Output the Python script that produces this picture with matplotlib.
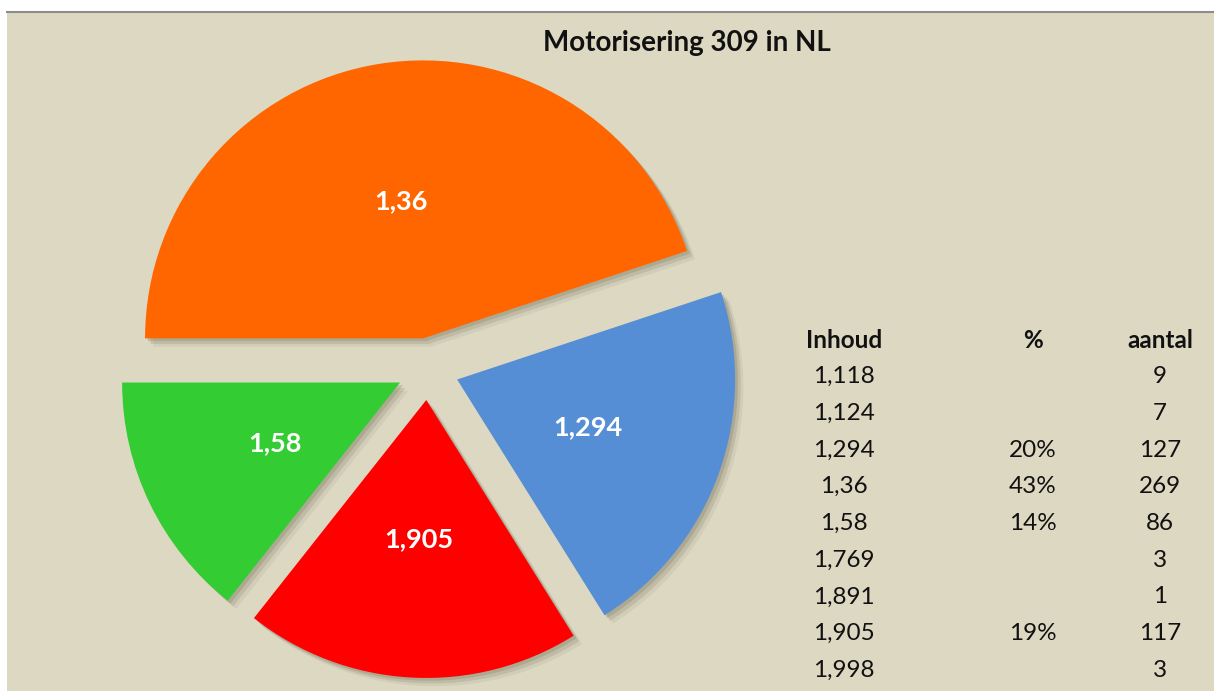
import matplotlib.pyplot as plt
from matplotlib.patches import Rectangle, Shadow

# pie data (clockwise, starting at 9 o'clock)
pie_labels = ['1,36', '1,294', '1,905', '1,58']
pie_counts = [269, 127, 117, 86]
pie_colors = ['#FF6600', '#558ED5', '#FF0000', '#33CC33']

# table on the right
table_header = ['Inhoud', '%', 'aantal']
table_inhoud = ['1,118', '1,124', '1,294', '1,36', '1,58', '1,769', '1,891', '1,905', '1,998']
table_pct = ['', '', '20%', '43%', '14%', '', '', '19%', '']
table_aantal = [9, 7, 127, 269, 86, 3, 1, 117, 3]

W, H = 1214, 691
bg = '#DDD8C2'

fig = plt.figure(figsize=(W / 100, H / 100), dpi=100)
fig.patch.set_facecolor('white')

ax = fig.add_axes([0, 0, 1, 1])
# chart area background + thin grey top border
ax.add_patch(Rectangle((7, 0), W - 7, H - 12, facecolor=bg, edgecolor='none', zorder=0))
ax.plot([7, W], [H - 12, H - 12], color='#8c8c8c', lw=1.5, zorder=1)

wedges, texts = ax.pie(
    pie_counts,
    labels=pie_labels,
    colors=pie_colors,
    startangle=180,
    counterclock=False,
    center=(428, H - 369),
    radius=278,
    explode=[31] * len(pie_counts),
    labeldistance=0.5,
    wedgeprops={'linewidth': 0, 'zorder': 3},
)

# soft drop shadow: a few stacked faint copies offset to the lower right
for w in wedges:
    for off, a in [(2, 0.35), (4, 0.25), (6, 0.12)]:
        ax.add_patch(Shadow(w, off, -off, facecolor='#8a8570', edgecolor='none',
                            alpha=a, zorder=2))

for t in texts:
    t.set_ha('center')
    t.set_va('center')
    t.set_color('white')
    t.set_fontsize(19.5)
    t.set_fontweight('bold')
    t.set_family('Lato')
    t.set_zorder(4)

ax.set_xlim(0, W)
ax.set_ylim(0, H)
ax.set_aspect('auto')
ax.axis('off')

ax.text(687, H - 43, 'Motorisering 309 in NL', ha='center', va='center',
        fontsize=20, fontweight='bold', family='Lato', color='#111111')

# table
col_x = [844, 1033, 1160]
y0 = 340
step = 36.7
for x, h in zip(col_x, table_header):
    ax.text(x, H - y0, h, ha='center', va='center', fontsize=17.5,
            fontweight='bold', family='Lato', color='#111111')
for i in range(len(table_inhoud)):
    y = H - (y0 + step * (i + 1))
    row = [table_inhoud[i], table_pct[i], str(table_aantal[i])]
    for x, v in zip(col_x, row):
        ax.text(x, y, v, ha='center', va='center', fontsize=17.5,
                family='Lato', color='#111111')

fig.savefig('out.png', dpi=100, facecolor=fig.get_facecolor())
